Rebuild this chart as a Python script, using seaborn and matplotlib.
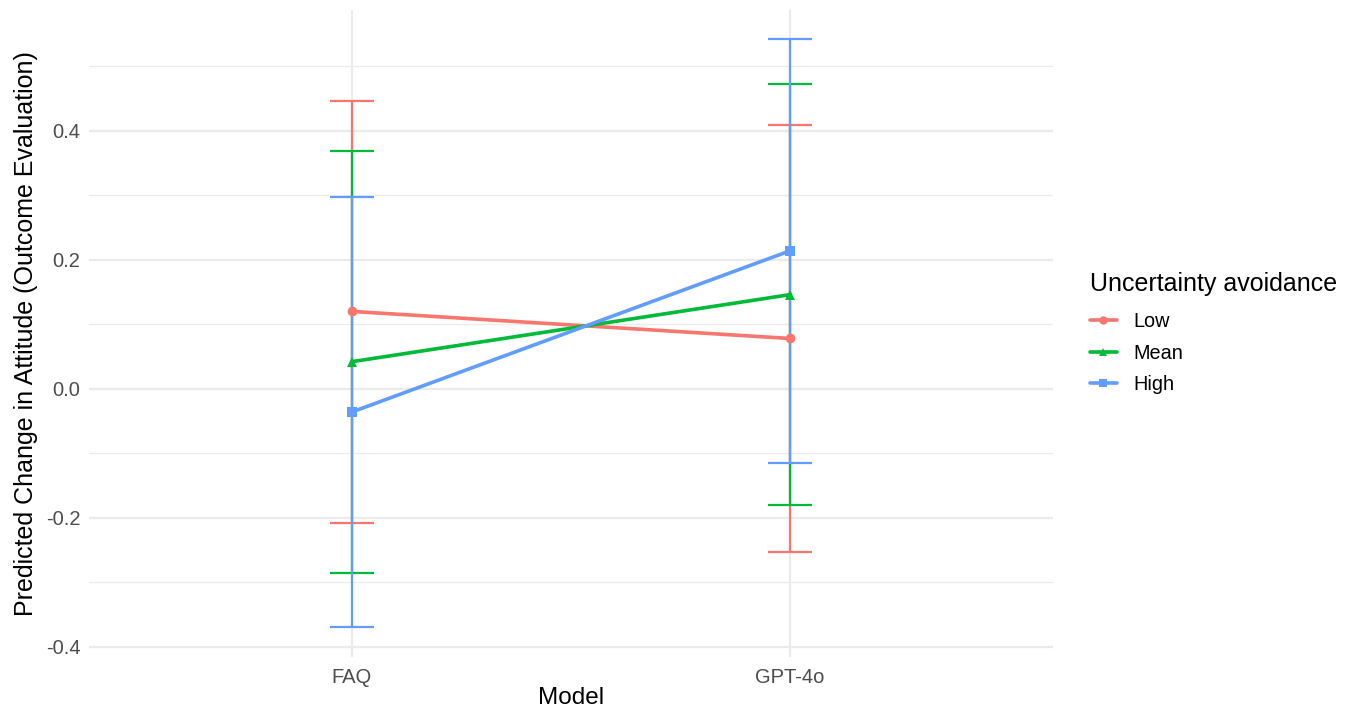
import numpy as np
import pandas as pd
import matplotlib
matplotlib.use("Agg")
import matplotlib.pyplot as plt
import seaborn as sns
from matplotlib.lines import Line2D

models = ["FAQ", "GPT-4o"]
levels = ["Low", "Mean", "High"]
pred_low = [0.120, 0.078]
pred_mean = [0.042, 0.146]
pred_high = [-0.036, 0.214]
lo_low = [-0.208, -0.253]
lo_mean = [-0.286, -0.180]
lo_high = [-0.370, -0.115]
hi_low = [0.447, 0.409]
hi_mean = [0.368, 0.472]
hi_high = [0.297, 0.542]
y_ticks = [-0.4, -0.2, 0.0, 0.2, 0.4]
y_tick_labels = ["-0.4", "-0.2", "0.0", "0.2", "0.4"]

colors = {"Low": "#F8766D", "Mean": "#00BA38", "High": "#619CFF"}
markers = {"Low": "o", "Mean": "^", "High": "s"}

rows = []
for lev, p, lo, hi in zip(levels, [pred_low, pred_mean, pred_high],
                          [lo_low, lo_mean, lo_high], [hi_low, hi_mean, hi_high]):
    for i, m in enumerate(models):
        rows.append({"Model": m, "pos": i, "UA": lev, "pred": p[i], "lo": lo[i], "hi": hi[i]})
df = pd.DataFrame(rows)

sns.set_theme(style="whitegrid")
plt.rcParams["font.family"] = ["Liberation Sans", "DejaVu Sans"]

fig = plt.figure(figsize=(13.54, 7.13), dpi=100)
ax = fig.add_axes([0.0657, 0.0785, 0.712, 0.908])

for lev in levels:
    d = df[df["UA"] == lev]
    ax.errorbar(d["pos"], d["pred"], yerr=[d["pred"] - d["lo"], d["hi"] - d["pred"]],
                fmt="none", ecolor=colors[lev], elinewidth=1.6, capsize=15.8,
                capthick=1.6, zorder=2)

sns.lineplot(data=df, x="pos", y="pred", hue="UA", style="UA", hue_order=levels,
             style_order=levels, palette=colors, markers=markers, dashes=False,
             linewidth=2.6, markersize=7, markeredgewidth=0, ax=ax, legend=False,
             zorder=3)

ax.set_xlim(-0.6, 1.6)
ax.set_ylim(-0.416, 0.588)
ax.set_xticks([0, 1])
ax.set_xticklabels(models)
ax.set_yticks(y_ticks)
ax.set_yticklabels(y_tick_labels)
ax.set_yticks([-0.3, -0.1, 0.1, 0.3, 0.5], minor=True)
ax.set_xlabel("Model", fontsize=17.5, color="black", labelpad=0)
ax.set_ylabel("Predicted Change in Attitude (Outcome Evaluation)", fontsize=18,
              color="black", labelpad=6)
ax.tick_params(axis="both", which="major", labelsize=14.5, labelcolor="#4D4D4D",
               length=0, pad=6)
ax.tick_params(axis="x", which="major", pad=8)
ax.tick_params(axis="y", which="minor", length=0)
ax.set_facecolor("white")
ax.grid(True, which="major", color="#EBEBEB", linewidth=1.6)
ax.grid(True, which="minor", axis="y", color="#EBEBEB", linewidth=0.9)
ax.grid(False, axis="x", which="minor")
for s in ax.spines.values():
    s.set_visible(False)

handles = [Line2D([0], [0], color=colors[l], marker=markers[l], linewidth=2.6,
                  markersize=6, markeredgewidth=0) for l in levels]
leg = fig.legend(handles, levels, title="Uncertainty avoidance", loc="upper left",
                 bbox_to_anchor=(0.799, 0.630), frameon=False, fontsize=14.3,
                 title_fontsize=18, handlelength=1.35, labelspacing=0.62,
                 handletextpad=0.85, borderaxespad=0.0, labelcolor="black")
leg.get_title().set_color("black")
leg._legend_box.align = "left"
leg._legend_box.sep = 12

fig.savefig("out.png", dpi=100)
